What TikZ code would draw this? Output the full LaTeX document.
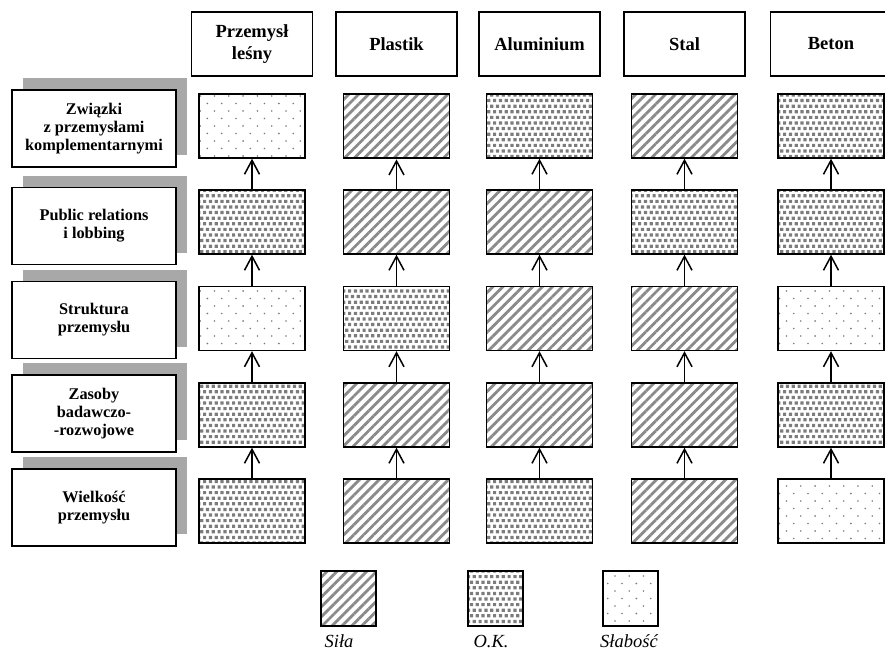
\documentclass[tikz,border=0pt]{standalone}
\usepackage{fontspec}
\setmainfont{Liberation Serif}
\usetikzlibrary{patterns,patterns.meta,shadows,arrows.meta}

\definecolor{shadowgray}{HTML}{A8A8A8}
\definecolor{stripegray}{HTML}{8A8A8A}
\definecolor{dotgray}{HTML}{7C7C7C}

% small squares, rows shifted by half a step
\pgfdeclarepatternformonly{okgrid}{\pgfqpoint{-0.5pt}{-0.5pt}}{\pgfqpoint{6.5pt}{12pt}}{\pgfqpoint{5.8pt}{11.2pt}}{%
  \pgfpathrectangle{\pgfqpoint{0pt}{0pt}}{\pgfqpoint{3.2pt}{3.2pt}}%
  \pgfpathrectangle{\pgfqpoint{2.9pt}{5.6pt}}{\pgfqpoint{3.2pt}{3.2pt}}%
  \pgfusepath{fill}}

% sparse dots
\pgfdeclarepatternformonly{sparsedots}{\pgfqpoint{-1pt}{-1pt}}{\pgfqpoint{15.3pt}{16pt}}{\pgfqpoint{14.3pt}{15pt}}{%
  \pgfpathcircle{\pgfqpoint{0pt}{0pt}}{0.9pt}%
  \pgfpathcircle{\pgfqpoint{7.15pt}{7.5pt}}{0.9pt}%
  \pgfusepath{fill}}

\begin{document}
\begin{tikzpicture}[x=1pt, y=1pt]
    \tikzstyle{cell}=[draw, line width=1.4pt, minimum width=106pt, minimum height=64pt, inner sep=0pt]
    \tikzstyle{sila}=[pattern={Lines[angle=45, distance=7pt, line width=2.8pt]}, pattern color=stripegray]
    \tikzstyle{okfill}=[pattern=okgrid, pattern color=dotgray]
    \tikzstyle{slaby}=[pattern=sparsedots, pattern color=dotgray]
    \tikzstyle{head}=[draw, line width=1.4pt, minimum width=121pt, minimum height=64pt, align=center, font=\fontsize{18.5}{22}\selectfont\bfseries]
    \tikzstyle{rowlabel}=[draw, fill=white, line width=1.4pt, minimum width=164pt, minimum height=77pt, align=center,
        font=\fontsize{16.3}{18}\selectfont\bfseries,
        general shadow={fill=shadowgray, shadow xshift=11pt, shadow yshift=12pt}]
    \tikzstyle{legbox}=[draw, line width=1.4pt, minimum width=55pt, minimum height=55pt, inner sep=0pt]
    \tikzstyle{legtext}=[anchor=base, inner sep=0pt, font=\fontsize{18.5}{20}\selectfont\itshape]
    \tikzstyle{up}=[-{Straight Barb[length=14pt, width=15pt]}, line width=1.5pt]

    \useasboundingbox (0,0) rectangle (885,-651);
    \clip (0,0) rectangle (885,-651);

    % column heads
    \node[head] (lesny) at (252,-44) {Przemysł\\leśny};
    \node[head] (plastik) at (396.5,-44) {Plastik};
    \node[head] (alum) at (539.5,-44) {Aluminium};
    \node[head] (stal) at (684.5,-44) {Stal};
    \node[head] (beton) at (831,-44) {Beton};

    % row labels
    \node[rowlabel] (zwiazki) at (94,-128.5) {Związki\\z przemysłami\\komplementarnymi};
    \node[rowlabel] (pr) at (94,-226) {Public relations\\i lobbing};
    \node[rowlabel] (struktura) at (94,-320) {Struktura\\przemysłu};
    \node[rowlabel] (zasoby) at (94,-413.5) {Zasoby\\badawczo-\\-rozwojowe};
    \node[rowlabel] (wielkosc) at (94,-507.5) {Wielkość\\przemysłu};

    % Przemysl lesny
    \node[cell, slaby] (lesny1) at (252,-126) {};
    \node[cell, okfill] (lesny2) at (252,-222) {};
    \node[cell, slaby] (lesny3) at (252,-318.5) {};
    \node[cell, okfill] (lesny4) at (252,-415) {};
    \node[cell, okfill] (lesny5) at (252,-511) {};

    % Plastik
    \node[cell, sila] (plastik1) at (396.5,-126) {};
    \node[cell, sila] (plastik2) at (396.5,-222) {};
    \node[cell, okfill] (plastik3) at (396.5,-318.5) {};
    \node[cell, sila] (plastik4) at (396.5,-415) {};
    \node[cell, sila] (plastik5) at (396.5,-511) {};

    % Aluminium
    \node[cell, okfill] (alum1) at (539.5,-126) {};
    \node[cell, sila] (alum2) at (539.5,-222) {};
    \node[cell, sila] (alum3) at (539.5,-318.5) {};
    \node[cell, sila] (alum4) at (539.5,-415) {};
    \node[cell, okfill] (alum5) at (539.5,-511) {};

    % Stal
    \node[cell, sila] (stal1) at (684.5,-126) {};
    \node[cell, okfill] (stal2) at (684.5,-222) {};
    \node[cell, sila] (stal3) at (684.5,-318.5) {};
    \node[cell, sila] (stal4) at (684.5,-415) {};
    \node[cell, sila] (stal5) at (684.5,-511) {};

    % Beton
    \node[cell, okfill] (beton1) at (831,-126) {};
    \node[cell, okfill] (beton2) at (831,-222) {};
    \node[cell, slaby] (beton3) at (831,-318.5) {};
    \node[cell, okfill] (beton4) at (831,-415) {};
    \node[cell, slaby] (beton5) at (831,-511) {};

    \path[up] (lesny5) edge (lesny4) (lesny4) edge (lesny3) (lesny3) edge (lesny2) (lesny2) edge (lesny1);
    \path[up] (plastik5) edge (plastik4) (plastik4) edge (plastik3) (plastik3) edge (plastik2) (plastik2) edge (plastik1);
    \path[up] (alum5) edge (alum4) (alum4) edge (alum3) (alum3) edge (alum2) (alum2) edge (alum1);
    \path[up] (stal5) edge (stal4) (stal4) edge (stal3) (stal3) edge (stal2) (stal2) edge (stal1);
    \path[up] (beton5) edge (beton4) (beton4) edge (beton3) (beton3) edge (beton2) (beton2) edge (beton1);

    % legend
    \node[legbox, sila] (legsila) at (348.5,-598.5) {};
    \node[legbox, okfill] (legok) at (495.5,-598.5) {};
    \node[legbox, slaby] (legslaby) at (630.5,-598.5) {};
    \node[legtext] (txtsila) at (339,-647) {Siła};
    \node[legtext] (txtok) at (491,-647) {O.K.};
    \node[legtext] (txtslaby) at (629,-647) {Słabość};
  \end{tikzpicture}
\end{document}
